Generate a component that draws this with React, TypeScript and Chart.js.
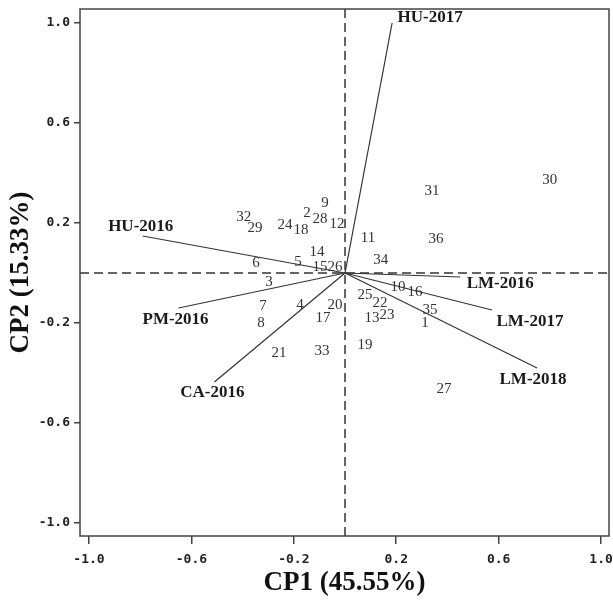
import React, { useEffect, useRef } from 'react';
import { Chart, registerables } from 'chart.js';

Chart.register(...registerables);

// ---- Data ----
const pointLabels = [
  '1', '2', '3', '4', '5', '6', '7', '8', '9', '10', '11', '12',
  '13', '14', '15', '16', '17', '18', '19', '20', '21', '22', '23', '24',
  '25', '26', '27', '28', '29', '30', '31', '32', '33', '34', '35', '36',
];
const pointX = [
  0.312, -0.148, -0.297, -0.176, -0.184, -0.348, -0.32, -0.328, -0.078, 0.207, 0.09, -0.031,
  0.105, -0.109, -0.098, 0.273, -0.086, -0.172, 0.078, -0.039, -0.258, 0.137, 0.164, -0.234,
  0.078, -0.039, 0.387, -0.098, -0.352, 0.8, 0.34, -0.395, -0.09, 0.14, 0.332, 0.355,
];
const pointY = [
  -0.2, 0.24, -0.036, -0.128, 0.044, 0.04, -0.132, -0.2, 0.28, -0.056, 0.14, 0.196,
  -0.18, 0.084, 0.024, -0.076, -0.18, 0.172, -0.288, -0.128, -0.32, -0.12, -0.168, 0.192,
  -0.088, 0.024, -0.464, 0.216, 0.18, 0.372, 0.328, 0.224, -0.312, 0.052, -0.148, 0.136,
];

const vectorNames = ['HU-2016', 'HU-2017', 'PM-2016', 'CA-2016', 'LM-2016', 'LM-2017', 'LM-2018'];
const vectorX = [-0.79, 0.184, -0.65, -0.51, 0.45, 0.574, 0.75];
const vectorY = [0.148, 1.0, -0.14, -0.436, -0.016, -0.148, -0.38];

const tickValues = [-1.0, -0.6, -0.2, 0.2, 0.6, 1.0];
const xTitle = 'CP1 (45.55%)';
const yTitle = 'CP2 (15.33%)';

const xMin = -1.035;
const xMax = 1.031;
const yMin = -1.052;
const yMax = 1.056;

// ---- Layout (pixel offsets of the vector labels from the vector tips) ----
const vectorLabelOffsets: [number, number][] = [
  [-2, -9], [38, -5], [-3, 12], [-2, 11], [40, 7], [38, 12], [-4, 12],
];

const VECTOR_START = 2;
const POINTS_INDEX = VECTOR_START + vectorNames.length;

const labelPlugin = {
  id: 'biplotLabels',
  afterDatasetsDraw(chart: any) {
    const ctx = chart.ctx;
    const a = chart.chartArea;
    ctx.save();
    // frame
    ctx.strokeStyle = '#444';
    ctx.lineWidth = 1.5;
    ctx.strokeRect(a.left, a.top, a.right - a.left, a.bottom - a.top);

    // point labels
    const meta = chart.getDatasetMeta(POINTS_INDEX);
    ctx.font = '15px "Liberation Serif"';
    ctx.fillStyle = '#333';
    ctx.textAlign = 'center';
    ctx.textBaseline = 'middle';
    meta.data.forEach((el: any, i: number) => {
      ctx.fillText(pointLabels[i], el.x, el.y);
    });

    // vector labels
    ctx.font = 'bold 17px "Liberation Serif"';
    ctx.fillStyle = '#1a1a1a';
    vectorNames.forEach((name, i) => {
      const m = chart.getDatasetMeta(VECTOR_START + i);
      const tip = m.data[1];
      const [dx, dy] = vectorLabelOffsets[i];
      ctx.fillText(name, tip.x + dx, tip.y + dy);
    });
    ctx.restore();
  },
};

export default function App() {
  const ref = useRef<HTMLCanvasElement | null>(null);

  useEffect(() => {
    if (!ref.current) return;
    const datasets: any[] = [
      {
        type: 'line',
        label: 'h0',
        data: [{ x: xMin, y: 0 }, { x: xMax, y: 0 }],
        borderColor: '#333',
        borderWidth: 1.5,
        borderDash: [9, 5],
        pointRadius: 0,
      },
      {
        type: 'line',
        label: 'v0',
        data: [{ x: 0, y: yMin }, { x: 0, y: yMax }],
        borderColor: '#333',
        borderWidth: 1.5,
        borderDash: [9, 5],
        pointRadius: 0,
      },
      ...vectorNames.map((name, i) => ({
        type: 'line',
        label: name,
        data: [{ x: 0, y: 0 }, { x: vectorX[i], y: vectorY[i] }],
        borderColor: '#333',
        borderWidth: 1.2,
        pointRadius: 0,
      })),
      {
        type: 'scatter',
        label: 'points',
        data: pointX.map((x, i) => ({ x, y: pointY[i] })),
        pointRadius: 0,
      },
    ];

    const tickFont = { family: '"DejaVu Sans Mono"', size: 13, weight: 'bold' as const };
    const titleFont = { family: '"Liberation Serif"', size: 27, weight: 'bold' as const };

    const chart = new Chart(ref.current, {
      type: 'scatter',
      data: { datasets },
      options: {
        responsive: false,
        animation: false,
        layout: { padding: { left: 0, top: 9, right: 4, bottom: 0 } },
        plugins: { legend: { display: false }, tooltip: { enabled: false } },
        scales: {
          x: {
            type: 'linear',
            min: xMin,
            max: xMax,
            afterFit: (s: any) => {
              s.height = 64;
              s.paddingLeft = 0;
              s.paddingRight = 0;
            },
            afterBuildTicks: (s: any) => { s.ticks = tickValues.map((v) => ({ value: v })); },
            grid: { drawOnChartArea: false, drawTicks: true, tickLength: 8, color: '#444', lineWidth: 1.5 },
            border: { display: false },
            ticks: {
              font: tickFont,
              color: '#222',
              padding: 8,
              maxRotation: 0,
              autoSkip: false,
              callback: (v: any) => Number(v).toFixed(1),
            },
            title: { display: true, text: xTitle, font: titleFont, color: '#111', padding: { top: 0, bottom: 1 } },
          },
          y: {
            type: 'linear',
            min: yMin,
            max: yMax,
            afterFit: (s: any) => {
              s.width = 80;
              s.paddingTop = 0;
              s.paddingBottom = 0;
            },
            afterBuildTicks: (s: any) => { s.ticks = tickValues.map((v) => ({ value: v })); },
            grid: { drawOnChartArea: false, drawTicks: true, tickLength: 6, color: '#444', lineWidth: 1.5 },
            border: { display: false },
            ticks: {
              font: tickFont,
              color: '#222',
              padding: 4,
              autoSkip: false,
              callback: (v: any) => Number(v).toFixed(1),
            },
            title: { display: true, text: yTitle, font: titleFont, color: '#111', padding: { top: 5, bottom: 0 } },
          },
        },
      },
      plugins: [labelPlugin],
    } as any);

    return () => chart.destroy();
  }, []);

  return (
    <div style={{ position: 'fixed', left: 0, top: 0, width: 613, height: 600, background: '#fff' }}>
      <canvas ref={ref} width={613} height={600} style={{ display: 'block' }} />
    </div>
  );
}
